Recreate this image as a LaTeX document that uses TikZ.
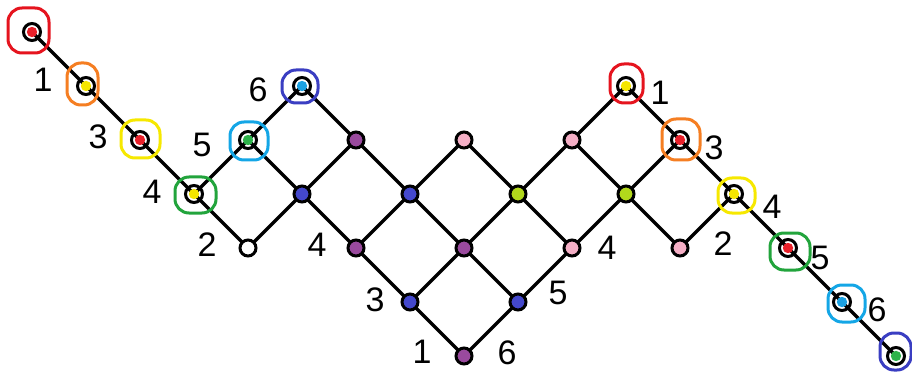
\documentclass[tikz,border=0pt]{standalone}
\usepackage{fontspec}
\setmainfont{Liberation Sans}
\pgfdeclarelayer{bg}
\pgfsetlayers{bg,main}
\definecolor{dRed}{HTML}{E8202A}
\definecolor{dYellow}{HTML}{F5E600}
\definecolor{dGreen}{HTML}{2DB34A}
\definecolor{dCyan}{HTML}{1BA1E2}
\definecolor{dBlue}{HTML}{4448CC}
\definecolor{dPurple}{HTML}{9A4A9E}
\definecolor{dPink}{HTML}{F5AFC6}
\definecolor{dLime}{HTML}{B2D81C}
\definecolor{hRed}{HTML}{E5141E}
\definecolor{hOrange}{HTML}{F57E22}
\definecolor{hYellow}{HTML}{F6E800}
\definecolor{hGreen}{HTML}{22A43C}
\definecolor{hCyan}{HTML}{14A6E6}
\definecolor{hBlue}{HTML}{3A3EC2}
\begin{document}
\begin{tikzpicture}[x=1pt,y=-1pt,
  vtx/.style={circle, draw=black, line width=3pt, minimum size=16pt, inner sep=0pt, fill=#1},
  mk/.style={circle, draw=black, line width=3pt, minimum size=17pt, inner sep=0pt,
    path picture={\fill[#1] (path picture bounding box.center) circle (5.2pt);}},
  edge/.style={line width=3.2pt, black},
  hl/.style={line width=3pt, rounded corners=14pt, draw=#1},
  lab/.style={font=\fontsize{34}{34}\selectfont, inner sep=0pt, text=black}]
\useasboundingbox (0,0) rectangle (912,374);
% vertices
\node[mk=dRed] (a0) at (32,32) {};
\node[mk=dYellow] (a1) at (86,86) {};
\node[mk=dRed] (a2) at (140,140) {};
\node[mk=dYellow] (a3) at (194,194) {};
\node[mk=dGreen] (b42) at (248,140) {};
\node[mk=dCyan] (b51) at (302,86) {};
\node[vtx=white] (w44) at (248,248) {};
\node[vtx=dPurple] (p62) at (356,140) {};
\node[vtx=dBlue] (u53) at (302,194) {};
\node[vtx=dPurple] (p64) at (356,248) {};
\node[vtx=dBlue] (u73) at (410,194) {};
\node[vtx=dBlue] (u75) at (410,302) {};
\node[vtx=dPink] (k82) at (464,140) {};
\node[vtx=dPurple] (p84) at (464,248) {};
\node[vtx=dPurple] (p86) at (464,356) {};
\node[vtx=dLime] (g93) at (518,194) {};
\node[vtx=dBlue] (u95) at (518,302) {};
\node[vtx=dPink] (k102) at (572,140) {};
\node[vtx=dPink] (k104) at (572,248) {};
\node[mk=dYellow] (y111) at (626,86) {};
\node[vtx=dLime] (g113) at (626,194) {};
\node[mk=dRed] (r122) at (680,140) {};
\node[vtx=dPink] (k124) at (680,248) {};
\node[mk=dYellow] (y133) at (734,194) {};
\node[mk=dRed] (r144) at (788,248) {};
\node[mk=dCyan] (c155) at (842,302) {};
\node[mk=dGreen] (g166) at (896,356) {};
% edges
\begin{pgfonlayer}{bg}
\foreach \s/\t in {a0/a1,a1/a2,a2/a3,a3/b42,b42/b51,a3/w44,b51/p62,b42/u53,w44/u53,
  u53/p62,u53/p64,p62/u73,p64/u73,p64/u75,u73/k82,u73/p84,u75/p84,u75/p86,
  k82/g93,p84/g93,p84/u95,p86/u95,g93/k102,g93/k104,u95/k104,
  k102/y111,k102/g113,k104/g113,y111/r122,r122/g113,g113/k124,
  r122/y133,k124/y133,y133/r144,r144/c155,c155/g166}
  \draw[edge] (\s.center) -- (\t.center);
\end{pgfonlayer}
% highlight loops
\draw[hl=hRed] ([shift={(-24,-24)}]a0.center) rectangle ([shift={(17,21)}]a0.center);
\draw[hl=hOrange] ([shift={(-19,-23)}]a1.center) rectangle ([shift={(12,19)}]a1.center);
\draw[hl=hYellow] ([shift={(-19,-20)}]a2.center) rectangle ([shift={(20,18)}]a2.center);
\draw[hl=hGreen] ([shift={(-19,-17)}]a3.center) rectangle ([shift={(22,19)}]a3.center);
\draw[hl=hCyan] ([shift={(-18,-18)}]b42.center) rectangle ([shift={(20,20)}]b42.center);
\draw[hl=hBlue] ([shift={(-20,-16)}]b51.center) rectangle ([shift={(16,17)}]b51.center);
\draw[hl=hRed] ([shift={(-16,-22)}]y111.center) rectangle ([shift={(17,17)}]y111.center);
\draw[hl=hOrange] ([shift={(-18,-21)}]r122.center) rectangle ([shift={(20,20)}]r122.center);
\draw[hl=hYellow] ([shift={(-16,-16)}]y133.center) rectangle ([shift={(21,19)}]y133.center);
\draw[hl=hGreen] ([shift={(-18,-15)}]r144.center) rectangle ([shift={(22,22)}]r144.center);
\draw[hl=hCyan] ([shift={(-14,-17)}]c155.center) rectangle ([shift={(23,20)}]c155.center);
\draw[hl=hBlue] ([shift={(-16,-23)}]g166.center) rectangle ([shift={(15,14)}]g166.center);
% labels
\node[lab] (l1) at (43,80) {1};
\node[lab] (l2) at (98,137) {3};
\node[lab] (l3) at (152,192) {4};
\node[lab] (l4) at (202,145) {5};
\node[lab] (l5) at (258,90) {6};
\node[lab] (l6) at (207,245) {2};
\node[lab] (l7) at (317,245) {4};
\node[lab] (l8) at (375,300) {3};
\node[lab] (l9) at (422,352) {1};
\node[lab] (l10) at (507,353) {6};
\node[lab] (l11) at (558,293) {5};
\node[lab] (l12) at (607,248) {4};
\node[lab] (l13) at (660,93) {1};
\node[lab] (l14) at (714,148) {3};
\node[lab] (l15) at (723,244) {2};
\node[lab] (l16) at (772,207) {4};
\node[lab] (l17) at (820,258) {5};
\node[lab] (l18) at (877,310) {6};
\end{tikzpicture}
\end{document}
